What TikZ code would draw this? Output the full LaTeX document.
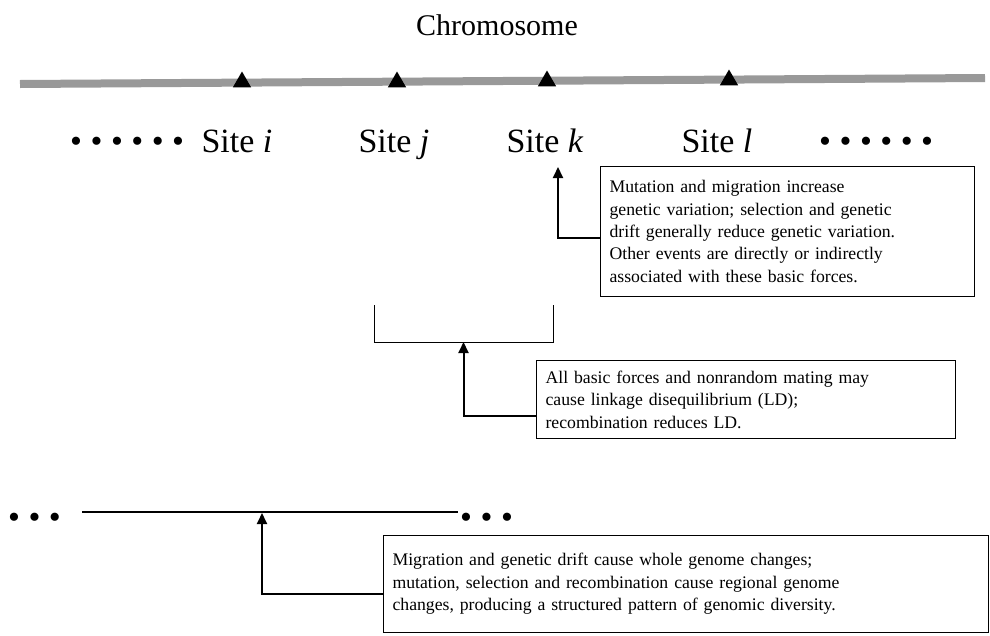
\documentclass[tikz,border=0pt]{standalone}
\usepackage{fontspec}
\setmainfont{Liberation Serif}
\usetikzlibrary{arrows.meta,shapes.geometric}
\begin{document}
\begin{tikzpicture}[x=1pt,y=-1pt,
  every node/.style={inner sep=0pt},
  note/.style={draw, line width=1.1pt, anchor=north west, align=left,
    inner xsep=9pt, inner ysep=0pt, font=\fontsize{17.7}{22.4}\selectfont},
  sitelab/.style={anchor=base, font=\fontsize{34}{40}\selectfont},
  dotsrow/.style={anchor=base west, font=\fontsize{34}{40}\selectfont},
  tri/.style={regular polygon, regular polygon sides=3, fill=black,
    minimum size=21pt, inner sep=0pt},
  conn/.style={line width=2pt, -{Triangle[length=11pt,width=10pt]}},
  thin line/.style={line width=1.1pt},
]
\useasboundingbox (0,0) rectangle (990,635);

% title
\node[font=\fontsize{30}{36}\selectfont, anchor=base] (title) at (497,35) {Chromosome};

% chromosome bar
\coordinate (barL) at (20,84);
\coordinate (barR) at (985,78);
\draw[line width=8pt, color=black!40] (barL) -- (barR);

% site markers
\node[tri] (ti) at (242,82) {};
\node[tri] (tj) at (397,82) {};
\node[tri] (tk) at (547,81) {};
\node[tri] (tl) at (729,80) {};

% site labels
\node[dotsrow] (dl) at (70,152) {• • • • • •};
\node[sitelab] (si) at (237,152) {Site \textit{i}};
\node[sitelab] (sj) at (394,152) {Site \textit{j}};
\node[sitelab] (sk) at (545,152) {Site \textit{k}};
\node[sitelab] (sl) at (717,152) {Site \textit{l}};
\node[dotsrow] (dr) at (819,152) {• • • • • •};

% box 1
\node[note, text width=356pt, minimum height=130pt] (b1) at (600,166)
  {Mutation and migration increase\\
   genetic variation; selection and genetic\\
   drift generally reduce genetic variation.\\
   Other events are directly or indirectly\\
   associated with these basic forces.};
\coordinate (k1) at (558,167);
\draw[conn] ([yshift=-6pt]b1.west) -| (k1);

% bracket between sites j and k
\coordinate (brL) at (374,305);
\coordinate (brR) at (553,305);
\coordinate (brBL) at (374,342);
\coordinate (brBR) at (553,342);
\coordinate (brM) at (463.5,342);
\draw[line width=1pt] (brL) -- (brBL) -- (brBR) -- (brR);

% box 2
\node[note, text width=401pt, minimum height=78pt] (b2) at (536,360)
  {All basic forces and nonrandom mating may\\
   cause linkage disequilibrium (LD);\\
   recombination reduces LD.};
\draw[conn] ([yshift=-16pt]b2.west) -| (brM);

% genome line
\node[dotsrow] (gl) at (8,528) {• • •};
\coordinate (lnL) at (82,512);
\coordinate (lnR) at (458,512);
\draw[thin line] (lnL) -- (lnR);
\node[dotsrow] (gr) at (460,528) {• • •};
\coordinate (lnM) at (262,513);

% box 3
\node[note, text width=587pt, minimum height=97pt] (b3) at (383,535)
  {Migration and genetic drift cause whole genome changes;\\
   mutation, selection and recombination cause regional genome\\
   changes, producing a structured pattern of genomic diversity.};
\draw[conn] ([yshift=-9.5pt]b3.west) -| (lnM);
\end{tikzpicture}
\end{document}
